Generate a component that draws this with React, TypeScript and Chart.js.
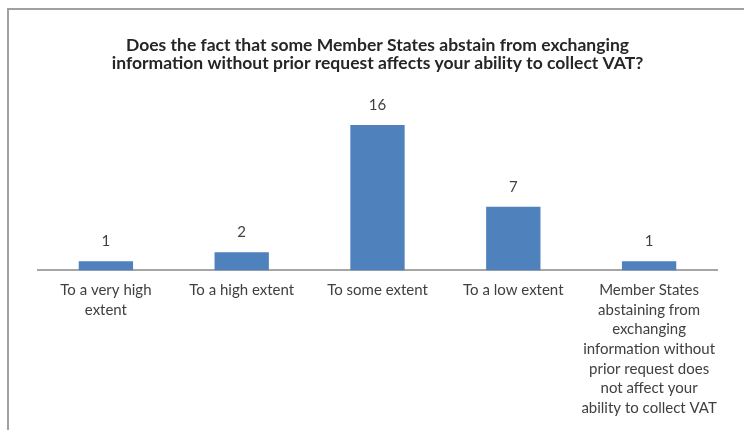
import React, { useEffect, useRef } from "react";
import { Chart, registerables } from "chart.js";

Chart.register(...registerables);

const categories: string[][] = [
  ["To a very high", "extent"],
  ["To a high extent"],
  ["To some extent"],
  ["To a low extent"],
  [
    "Member States",
    "abstaining from",
    "exchanging",
    "information without",
    "prior request does",
    "not affect your",
    "ability to collect VAT",
  ],
];
const values: number[] = [1, 2, 16, 7, 1];
const titleLines: string[] = [
  "Does the fact that some Member States abstain from exchanging",
  "information without prior request affects your ability to collect VAT?",
];

const FONT = "Lato, 'Open Sans', sans-serif";

const framePlugin = {
  id: "frame",
  beforeDraw(chart: any) {
    const ctx = chart.ctx;
    ctx.save();
    ctx.fillStyle = "#ffffff";
    ctx.fillRect(0, 0, chart.width, chart.height);
    ctx.strokeStyle = "#a0a0a0";
    ctx.lineWidth = 2;
    ctx.beginPath();
    ctx.moveTo(8, chart.height);
    ctx.lineTo(8, 9);
    ctx.lineTo(chart.width, 9);
    ctx.stroke();
    ctx.restore();
  },
};

const labelPlugin = {
  id: "valueLabels",
  afterDatasetsDraw(chart: any) {
    const ctx = chart.ctx;
    const meta = chart.getDatasetMeta(0);
    ctx.save();
    ctx.font = `15px ${FONT}`;
    ctx.fillStyle = "#404040";
    ctx.textAlign = "center";
    ctx.textBaseline = "middle";
    meta.data.forEach((bar: any, i: number) => {
      ctx.fillText(String(values[i]), bar.x, bar.y - 20);
    });
    ctx.restore();
  },
};

export default function App() {
  const ref = useRef<HTMLCanvasElement | null>(null);
  useEffect(() => {
    if (!ref.current) return;
    const chart = new Chart(ref.current, {
      type: "bar",
      data: {
        labels: categories,
        datasets: [
          {
            data: values,
            backgroundColor: "#4F81BD",
            borderWidth: 0,
            barPercentage: 0.4,
            categoryPercentage: 1,
          },
        ],
      },
      options: {
        animation: false,
        responsive: false,
        maintainAspectRatio: false,
        layout: { padding: { left: 38, right: 27, top: 0, bottom: 2 } },
        plugins: {
          legend: { display: false },
          tooltip: { enabled: false },
          title: {
            display: true,
            text: titleLines,
            color: "#262626",
            font: { family: FONT, size: 17.5, weight: "bold", lineHeight: 1.05 },
            padding: { top: 36, bottom: 16 },
          },
        },
        scales: {
          x: {
            grid: { display: false, drawTicks: false },
            border: { display: true, color: "#a6a6a6", width: 2 },
            ticks: {
              color: "#404040",
              font: { family: FONT, size: 15, lineHeight: 1.31 },
              padding: 10,
              maxRotation: 0,
              autoSkip: false,
            },
          },
          y: {
            display: false,
            min: 0,
            max: 20,
          },
        },
      },
      plugins: [framePlugin, labelPlugin],
    });
    return () => chart.destroy();
  }, []);
  return (
    <div style={{ position: "fixed", left: 0, top: 0, width: 744, height: 430 }}>
      <canvas ref={ref} width={744} height={430} style={{ width: 744, height: 430 }} />
    </div>
  );
}
